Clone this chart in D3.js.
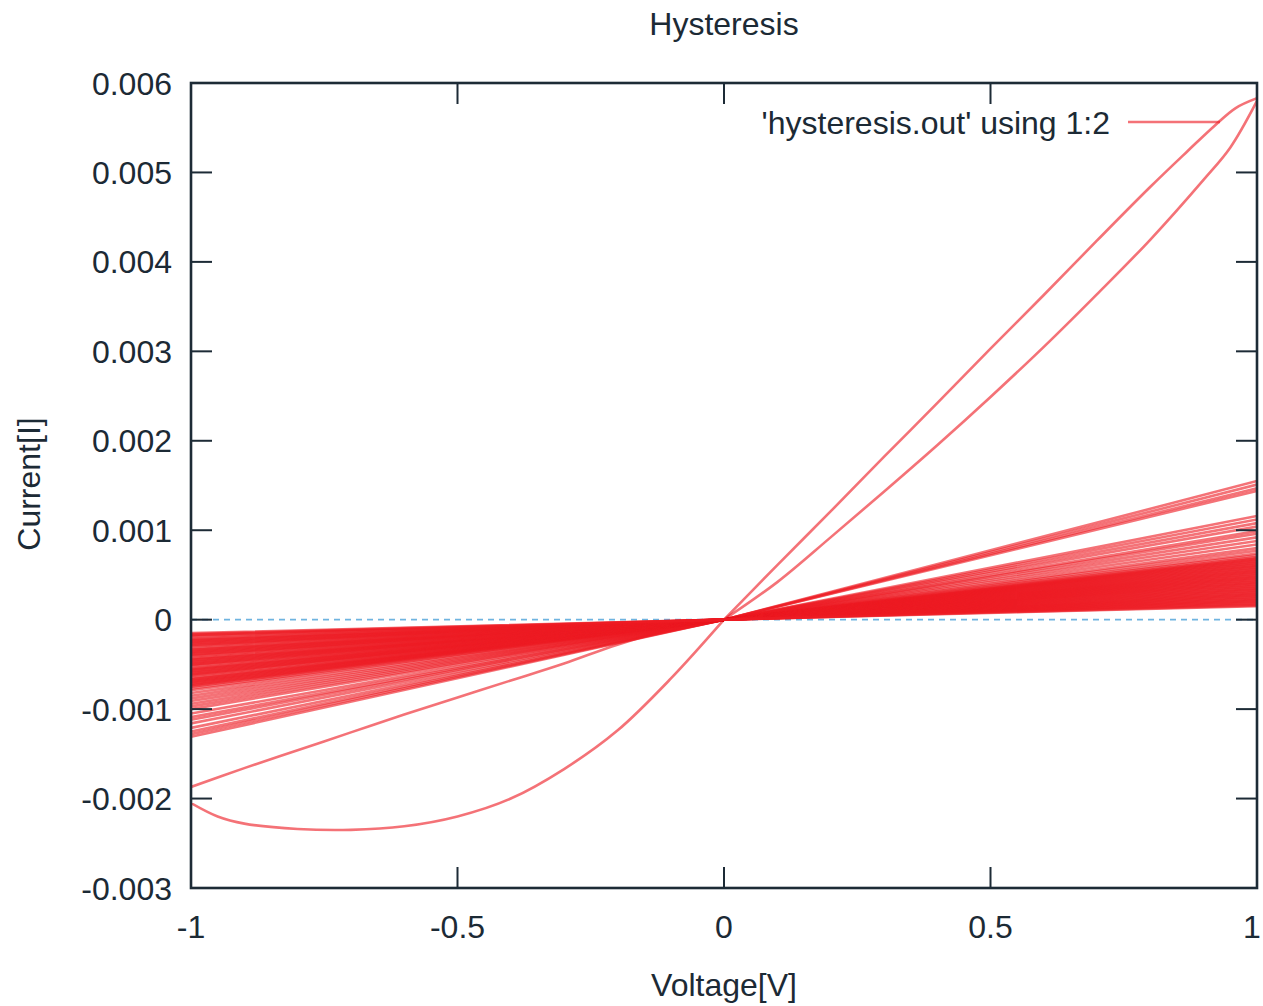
<!DOCTYPE html>
<html>
<head>
<meta charset="utf-8">
<script src="https://cdn.jsdelivr.net/npm/d3@7"></script>
<style>
  html, body { margin: 0; padding: 0; background: #fff; }
  svg { display: block; }
  text { font-family: "Liberation Sans", Arial, Helvetica, sans-serif; fill: #1c2a35; }
</style>
</head>
<body>
<svg id="chart" width="1263" height="1006"></svg>
<script>
// ---------------- data (current values in mA, voltage in V) ----------------
const title = "Hysteresis";
const xLabel = "Voltage[V]";
const yLabel = "Current[I]";
const legendLabel = "'hysteresis.out' using 1:2";

const xTicks = [-1, -0.5, 0, 0.5, 1];
const xTickLabels = ["-1", "-0.5", "0", "0.5", "1"];
const yTicks = [-0.003, -0.002, -0.001, 0, 0.001, 0.002, 0.003, 0.004, 0.005, 0.006];
const yTickLabels = ["-0.003", "-0.002", "-0.001", "0", "0.001", "0.002", "0.003", "0.004", "0.005", "0.006"];

// first cycle, positive half (two branches of the big loop)
const posUpV   = [0, 0.1, 0.2, 0.3, 0.4, 0.5, 0.6, 0.7, 0.8, 0.9, 0.95, 1.0];
const posUpI   = [0, 0.42, 0.92, 1.43, 1.95, 2.49, 3.05, 3.64, 4.25, 4.92, 5.28, 5.80];
const posDownV = [1.0, 0.96, 0.92, 0.87, 0.8, 0.7, 0.6, 0.5, 0.4, 0.3, 0.2, 0.1, 0];
const posDownI = [5.83, 5.72, 5.52, 5.24, 4.84, 4.24, 3.63, 3.03, 2.42, 1.82, 1.21, 0.61, 0];

// first cycle, negative half
const negOutV  = [0, -0.1, -0.2, -0.3, -0.4, -0.5, -0.6, -0.7, -0.8, -0.9, -0.95, -1.0];
const negOutI  = [0, -0.66, -1.24, -1.67, -2.00, -2.20, -2.31, -2.35, -2.34, -2.28, -2.20, -2.05];
const negBackV = [-1.0, -0.9, -0.8, -0.7, -0.6, -0.5, -0.4, -0.3, -0.2, -0.1, 0];
const negBackI = [-1.87, -1.66, -1.46, -1.26, -1.06, -0.87, -0.68, -0.49, -0.28, -0.11, 0];

// following cycles: current reached at V = +1 and at V = -1
const fanPos = [1.55, 1.51, 1.47, 1.44, 1.16, 1.12, 1.08, 1.04, 0.99, 0.96, 0.92, 0.88, 0.84, 0.80, 0.77, 0.74, 0.72,
  0.70, 0.69, 0.68, 0.67, 0.66, 0.65, 0.64, 0.63, 0.62, 0.61, 0.60, 0.59, 0.58, 0.57, 0.56, 0.55, 0.54, 0.53, 0.52, 0.51,
  0.50, 0.49, 0.48, 0.47, 0.46, 0.45, 0.44, 0.43, 0.42, 0.41, 0.40, 0.39, 0.38, 0.37, 0.36, 0.35, 0.34, 0.33, 0.32, 0.31,
  0.30, 0.29, 0.28, 0.27, 0.26, 0.25, 0.24, 0.23, 0.22, 0.21, 0.20, 0.19, 0.18, 0.17, 0.16, 0.15];
const fanNeg = [-1.31, -1.28, -1.25, -1.21, -1.16, -1.12, -1.09, -1.05, -1.00, -0.97, -0.94, -0.91, -0.88, -0.85, -0.82, -0.79, -0.77,
  -0.75, -0.74, -0.73, -0.72, -0.71, -0.70, -0.69, -0.68, -0.67, -0.66, -0.65, -0.63, -0.62, -0.61, -0.60, -0.59, -0.58, -0.57,
  -0.56, -0.55, -0.54, -0.52, -0.51, -0.50, -0.49, -0.48, -0.47, -0.46, -0.45, -0.44, -0.43, -0.41, -0.40, -0.39, -0.38, -0.37,
  -0.36, -0.35, -0.34, -0.33, -0.32, -0.30, -0.29, -0.28, -0.27, -0.26, -0.25, -0.24, -0.23, -0.22, -0.21, -0.19, -0.18, -0.17,
  -0.16, -0.15];

const mA = 1e-3;

// ---------------- layout ----------------
const svg = d3.select("#chart");
const plot = { left: 191, right: 1257, top: 83, bottom: 888 };
const x = d3.scaleLinear().domain([-1, 1]).range([plot.left, plot.right]);
const y = d3.scaleLinear().domain([-0.003, 0.006]).range([plot.bottom, plot.top]);
const fontSize = 32;
const ink = "#1d2b36";
const red = "#ed1c24";
const lineOpacity = 0.62;
const lineWidth = 2.6;

svg.append("rect").attr("width", 1263).attr("height", 1006).attr("fill", "#fff");

svg.append("defs").append("clipPath").attr("id", "clip")
  .append("rect").attr("x", plot.left).attr("y", plot.top)
  .attr("width", plot.right - plot.left).attr("height", plot.bottom - plot.top);

// zero axis (dashed)
svg.append("line")
  .attr("x1", x(-1)).attr("x2", x(1)).attr("y1", y(0)).attr("y2", y(0))
  .attr("stroke", "#6fb4e0").attr("stroke-width", 1.6).attr("stroke-dasharray", "6,5");

// ---------------- data lines ----------------
const g = svg.append("g").attr("clip-path", "url(#clip)");
const smooth = d3.line().x(d => x(d[0])).y(d => y(d[1] * mA)).curve(d3.curveCatmullRom.alpha(0.5));
const straight = d3.line().x(d => x(d[0])).y(d => y(d[1] * mA));

function pairs(vs, is) { return vs.map((v, i) => [v, is[i]]); }

[pairs(posUpV, posUpI), pairs(posDownV, posDownI), pairs(negOutV, negOutI), pairs(negBackV, negBackI)]
  .forEach(pts => {
    g.append("path").attr("d", smooth(pts))
      .attr("fill", "none").attr("stroke", red).attr("stroke-opacity", lineOpacity)
      .attr("stroke-width", lineWidth).attr("stroke-linejoin", "round");
  });

fanPos.forEach((p, k) => {
  const pts = [[1, p], [0, 0], [-1, fanNeg[k]]];
  g.append("path").attr("d", straight(pts))
    .attr("fill", "none").attr("stroke", red).attr("stroke-opacity", lineOpacity)
    .attr("stroke-width", lineWidth).attr("stroke-linejoin", "round");
});

// ---------------- frame & ticks ----------------
const tickLen = 21;
const axes = svg.append("g").attr("stroke", ink).attr("stroke-width", 2);
xTicks.forEach(t => {
  axes.append("line").attr("x1", x(t)).attr("x2", x(t)).attr("y1", plot.bottom).attr("y2", plot.bottom - tickLen);
  axes.append("line").attr("x1", x(t)).attr("x2", x(t)).attr("y1", plot.top).attr("y2", plot.top + tickLen);
});
yTicks.forEach(t => {
  axes.append("line").attr("x1", plot.left).attr("x2", plot.left + tickLen).attr("y1", y(t)).attr("y2", y(t));
  axes.append("line").attr("x1", plot.right).attr("x2", plot.right - tickLen).attr("y1", y(t)).attr("y2", y(t));
});
svg.append("rect")
  .attr("x", plot.left).attr("y", plot.top)
  .attr("width", plot.right - plot.left).attr("height", plot.bottom - plot.top)
  .attr("fill", "none").attr("stroke", ink).attr("stroke-width", 2.6);

// tick labels (last one nudged so it stays inside the picture)
svg.append("g").selectAll("text").data(xTicks).join("text")
  .attr("x", (d, i) => x(d) - (i === xTicks.length - 1 ? 5 : 0)).attr("y", 938)
  .attr("text-anchor", "middle").attr("font-size", fontSize)
  .text((d, i) => xTickLabels[i]);
svg.append("g").selectAll("text").data(yTicks).join("text")
  .attr("x", 172).attr("y", d => y(d) + fontSize * 0.36)
  .attr("text-anchor", "end").attr("font-size", fontSize)
  .text((d, i) => yTickLabels[i]);

// titles
svg.append("text").attr("x", 724).attr("y", 35).attr("text-anchor", "middle")
  .attr("font-size", fontSize).text(title);
svg.append("text").attr("x", 724).attr("y", 996).attr("text-anchor", "middle")
  .attr("font-size", fontSize).text(xLabel);
svg.append("text").attr("transform", "translate(40,484) rotate(-90)").attr("text-anchor", "middle")
  .attr("font-size", fontSize).text(yLabel);

// legend
svg.append("text").attr("x", 1110).attr("y", 122 + fontSize * 0.36).attr("text-anchor", "end")
  .attr("font-size", fontSize).text(legendLabel);
svg.append("line").attr("x1", 1128).attr("x2", 1220).attr("y1", 122).attr("y2", 122)
  .attr("stroke", red).attr("stroke-opacity", lineOpacity).attr("stroke-width", lineWidth);
</script>
</body>
</html>
